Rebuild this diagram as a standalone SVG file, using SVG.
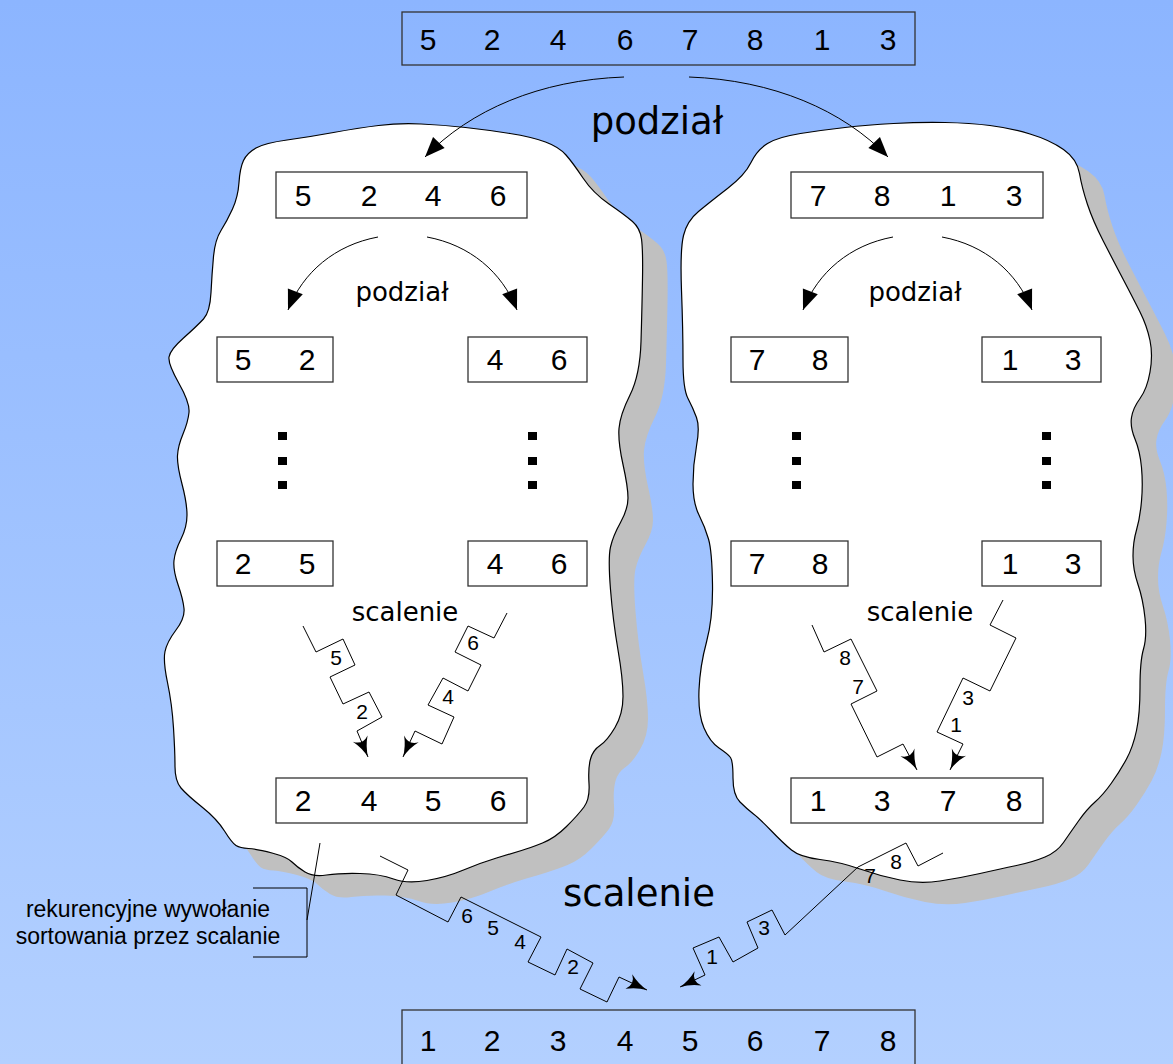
<svg xmlns="http://www.w3.org/2000/svg" xmlns:xlink="http://www.w3.org/1999/xlink" width="1173" height="1064" viewBox="0 0 1173 1064">
<style>
.box{fill:#fff;stroke:#333;stroke-width:1.3}
.obox{fill:none;stroke:#333;stroke-width:1.3}
.num{font-family:"Liberation Sans",Arial,sans-serif;font-size:30px;fill:#000;text-anchor:middle}
.lab{font-family:"Liberation Sans",Arial,sans-serif;font-size:21px;fill:#000;text-anchor:middle}
.note{font-family:"Liberation Sans",Arial,sans-serif;font-size:23px;fill:#000;text-anchor:middle}
.cs{font-family:"DejaVu Sans","Noto Sans",sans-serif;fill:#000;text-anchor:middle}
.arc{fill:none;stroke:#000;stroke-width:1;marker-end:url(#tri)}
.zig{fill:none;stroke:#000;stroke-width:1;stroke-linejoin:miter;marker-end:url(#conc)}
.ln{fill:none;stroke:#000;stroke-width:1}
.blob{fill:#fff;stroke:#000;stroke-width:1.2}
.shadow{fill:#c0c0c0;stroke:none}
.dot{fill:#000}
</style>
<defs>
<linearGradient id="bg" x1="0" y1="0" x2="0" y2="1">
<stop offset="0" stop-color="#8cb5ff"/>
<stop offset="1" stop-color="#b3d0ff"/>
</linearGradient>
<marker id="tri" markerUnits="userSpaceOnUse" markerWidth="22" markerHeight="18" refX="20" refY="8" orient="auto" overflow="visible">
<path d="M0,0 L20,8 L0,16 Z" fill="#000"/>
</marker>
<marker id="conc" markerUnits="userSpaceOnUse" markerWidth="22" markerHeight="18" refX="20" refY="8" orient="auto" overflow="visible">
<path d="M20,8 Q9,6 0,0 Q7,8 0,16 Q9,10 20,8 Z" fill="#000"/>
</marker>
<path id="shapeL" d="M243.5,160.5 Q247,153 256,148 Q265,143 287,140 Q309,137 333.5,132.5 Q358,128 378.5,125.5 Q399,123 421,124 Q443,125 465.5,127.5 Q488,130 510,133.5 Q532,137 545.5,142 Q559,147 566,155 Q573,163 583,178 Q593,193 609,204 Q625,215 632.5,221.5 Q640,228 641.5,239 Q643,250 642.5,279 Q642,308 641,341.5 Q640,375 630,395 Q620,415 619,428.5 Q618,442 623,464.5 Q628,487 628,498 Q628,509 620.5,522.5 Q613,536 610.5,547 Q608,558 610.5,589.5 Q613,621 618,650 Q623,679 623,696.5 Q623,714 615,727.5 Q607,741 600,745.5 Q593,750 590.5,759 Q588,768 589,783.5 Q590,799 584,807 Q578,815 566.5,826.5 Q555,838 542.5,843 Q530,848 521.5,850.5 Q513,853 496.5,858 Q480,863 463.5,870 Q447,877 427,880.5 Q407,884 393.5,879 Q380,874 360,873.5 Q340,873 326.5,875 Q313,877 305,872 Q297,867 292,862 Q287,857 272,853 Q257,849 248.5,848.5 Q240,848 236,845.5 Q232,843 224.5,831 Q217,819 202,807 Q187,795 181,788 Q175,781 175,766.5 Q175,752 173.5,728 Q172,704 167.5,682.5 Q163,661 165,651.5 Q167,642 176,630 Q185,618 184,608.5 Q183,599 178,584.5 Q173,570 174,560.5 Q175,551 181,539 Q187,527 187,515 Q187,503 182,484 Q177,465 177.5,455.5 Q178,446 183,434 Q188,422 189,412.5 Q190,403 179,383.5 Q168,364 169,357 Q170,350 183.5,338 Q197,326 203.5,319 Q210,312 211,292.5 Q212,273 213.5,256.5 Q215,240 221,230.5 Q227,221 232.5,209 Q238,197 239,182.5 Q240,168 243.5,160.5 Z"/>
<path id="shapeR" d="M751,162.5 Q757,150 767.5,143.5 Q778,137 800.5,133.5 Q823,130 845,127.5 Q867,125 893.5,123.5 Q920,122 945,122.5 Q970,123 990,125.5 Q1010,128 1030,134 Q1050,140 1063.5,149.5 Q1077,159 1079.5,173.5 Q1082,188 1087.5,204.5 Q1093,221 1103,240.5 Q1113,260 1123,279 Q1133,298 1140,312 Q1147,326 1150,340.5 Q1153,355 1150,372 Q1147,389 1140,398.5 Q1133,408 1131.5,417.5 Q1130,427 1135,439 Q1140,451 1141.5,467.5 Q1143,484 1141.5,501 Q1140,518 1136.5,530 Q1133,542 1133,556 Q1133,570 1138,584.5 Q1143,599 1145,618 Q1147,637 1143.5,649 Q1140,661 1140,687.5 Q1140,714 1136.5,730.5 Q1133,747 1126.5,759 Q1120,771 1111.5,783 Q1103,795 1095,802 Q1087,809 1078.5,821 Q1070,833 1063.5,842.5 Q1057,852 1045,857 Q1033,862 1016.5,865.5 Q1000,869 980,873.5 Q960,878 940,881 Q920,884 900,880 Q880,876 860,869 Q840,862 820,859.5 Q800,857 791.5,850 Q783,843 771.5,831 Q760,819 753.5,814 Q747,809 740,802 Q733,795 733,778 Q733,761 730.5,757.5 Q728,754 719,748 Q710,742 704,728 Q698,714 699,690 Q700,666 706.5,642 Q713,618 712.5,584.5 Q712,551 708.5,539 Q705,527 699,515 Q693,503 693,484 Q693,465 696.5,446 Q700,427 696.5,417.5 Q693,408 688,398.5 Q683,389 683,360 Q683,331 681.5,290.5 Q680,250 683.5,235.5 Q687,221 698.5,211.5 Q710,202 727.5,188.5 Q745,175 751,162.5 Z"/>
</defs>
<rect x="0" y="0" width="1173" height="1064" fill="url(#bg)"/>

<g id="blob-left">
<use xlink:href="#shapeL" href="#shapeL" class="shadow" transform="translate(25,22)"/>
<use xlink:href="#shapeL" href="#shapeL" class="blob"/>
</g>
<g id="blob-right">
<use xlink:href="#shapeR" href="#shapeR" class="shadow" transform="translate(25,22)"/>
<use xlink:href="#shapeR" href="#shapeR" class="blob"/>
</g>

<g id="connectors">
<path class="arc" d="M624,77 C540,80 470,110 425,157"/>
<path class="arc" d="M689,77 C773,80 843,110 888,157"/>
<path class="arc" d="M378,237 C335,245 303,272 288,310"/>
<path class="arc" d="M427,237 C470,245 502,272 517,310"/>
<path class="arc" d="M893,237 C850,245 818,272 803,310"/>
<path class="arc" d="M942,237 C985,245 1017,272 1032,310"/>
<polyline class="zig" points="303,626 316,652 343,639 355,665 330,677 343,704 369,692 382,717 357,731 368,757"/>
<polyline class="zig" points="507,613 494,638 468,626 455,652 481,665 468,691 443,678 428,705 454,717 442,744 415,731 403,757"/>
<polyline class="zig" points="812,625 824,652 851,639 877,691 851,704 877,757 903,744 917,770"/>
<polyline class="zig" points="1003,600 990,625 1016,638 990,691 963,678 937,732 963,744 950,770"/>
<polyline class="zig" points="380,856 408,870 396,895 448,922 461,897 541,937 528,962 555,975 567,949 593,963 580,989 607,1002 619,977 647,990"/>
<polyline class="zig" points="943,853 918,866 906,843 858,867 785,935 772,910 747,922 758,948 733,962 719,937 693,948 705,975 680,987"/>
<polyline class="ln" points="253,888 307,888 307,957 253,957"/>
<line class="ln" x1="307" y1="920" x2="320" y2="843"/>
</g>

<g id="node-top">
<rect class="obox" x="402" y="12" width="513" height="53"/>
<text class="num" y="50"><tspan x="428">5</tspan><tspan x="492">2</tspan><tspan x="558">4</tspan><tspan x="625">6</tspan><tspan x="690">7</tspan><tspan x="755">8</tspan><tspan x="822">1</tspan><tspan x="888">3</tspan></text>
</g>
<g id="node-5246">
<rect class="box" x="276" y="172" width="251" height="46"/>
<text class="num" y="206"><tspan x="303">5</tspan><tspan x="369">2</tspan><tspan x="433">4</tspan><tspan x="498">6</tspan></text>
</g>
<g id="node-7813">
<rect class="box" x="791" y="172" width="252" height="46"/>
<text class="num" y="206"><tspan x="818">7</tspan><tspan x="882">8</tspan><tspan x="948">1</tspan><tspan x="1014">3</tspan></text>
</g>
<g id="node-52">
<rect class="box" x="217" y="337" width="116" height="45"/>
<text class="num" y="370"><tspan x="243">5</tspan><tspan x="307">2</tspan></text>
</g>
<g id="node-46a">
<rect class="box" x="468" y="337" width="119" height="45"/>
<text class="num" y="370"><tspan x="495">4</tspan><tspan x="559">6</tspan></text>
</g>
<g id="node-78a">
<rect class="box" x="731" y="337" width="117" height="45"/>
<text class="num" y="370"><tspan x="757">7</tspan><tspan x="820">8</tspan></text>
</g>
<g id="node-13a">
<rect class="box" x="982" y="337" width="119" height="45"/>
<text class="num" y="370"><tspan x="1010">1</tspan><tspan x="1073">3</tspan></text>
</g>
<g id="dots">
<rect class="dot" x="278" y="432" width="9" height="8"/><rect class="dot" x="278" y="457" width="9" height="8"/><rect class="dot" x="278" y="481" width="9" height="8"/>
<rect class="dot" x="528" y="432" width="9" height="8"/><rect class="dot" x="528" y="457" width="9" height="8"/><rect class="dot" x="528" y="481" width="9" height="8"/>
<rect class="dot" x="792" y="432" width="9" height="8"/><rect class="dot" x="792" y="457" width="9" height="8"/><rect class="dot" x="792" y="481" width="9" height="8"/>
<rect class="dot" x="1042" y="432" width="9" height="8"/><rect class="dot" x="1042" y="457" width="9" height="8"/><rect class="dot" x="1042" y="481" width="9" height="8"/>
</g>
<g id="node-25">
<rect class="box" x="217" y="541" width="116" height="45"/>
<text class="num" y="574"><tspan x="243">2</tspan><tspan x="307">5</tspan></text>
</g>
<g id="node-46b">
<rect class="box" x="468" y="541" width="119" height="45"/>
<text class="num" y="574"><tspan x="495">4</tspan><tspan x="559">6</tspan></text>
</g>
<g id="node-78b">
<rect class="box" x="731" y="541" width="117" height="45"/>
<text class="num" y="574"><tspan x="757">7</tspan><tspan x="820">8</tspan></text>
</g>
<g id="node-13b">
<rect class="box" x="982" y="541" width="119" height="45"/>
<text class="num" y="574"><tspan x="1010">1</tspan><tspan x="1073">3</tspan></text>
</g>
<g id="node-2456">
<rect class="box" x="276" y="778" width="251" height="45"/>
<text class="num" y="811"><tspan x="303">2</tspan><tspan x="369">4</tspan><tspan x="433">5</tspan><tspan x="498">6</tspan></text>
</g>
<g id="node-1378">
<rect class="box" x="791" y="778" width="252" height="45"/>
<text class="num" y="811"><tspan x="818">1</tspan><tspan x="882">3</tspan><tspan x="948">7</tspan><tspan x="1014">8</tspan></text>
</g>
<g id="node-bottom">
<rect class="obox" x="402" y="1010" width="513" height="60"/>
<text class="num" y="1051"><tspan x="428">1</tspan><tspan x="492">2</tspan><tspan x="558">3</tspan><tspan x="625">4</tspan><tspan x="690">5</tspan><tspan x="755">6</tspan><tspan x="822">7</tspan><tspan x="888">8</tspan></text>
</g>

<g id="labels">
<text class="cs" x="657" y="134" font-size="37">podział</text>
<text class="cs" x="402" y="301" font-size="26">podział</text>
<text class="cs" x="915" y="301" font-size="26">podział</text>
<text class="cs" x="405" y="621" font-size="26">scalenie</text>
<text class="cs" x="920" y="621" font-size="26">scalenie</text>
<text class="cs" x="639" y="906" font-size="37">scalenie</text>
<text class="lab" x="336" y="665">5</text>
<text class="lab" x="362" y="719">2</text>
<text class="lab" x="473" y="650">6</text>
<text class="lab" x="448" y="704">4</text>
<text class="lab" x="845" y="665">8</text>
<text class="lab" x="858" y="694">7</text>
<text class="lab" x="968" y="705">3</text>
<text class="lab" x="956" y="732">1</text>
<text class="lab" x="467" y="923">6</text>
<text class="lab" x="493" y="935">5</text>
<text class="lab" x="520" y="949">4</text>
<text class="lab" x="573" y="974">2</text>
<text class="lab" x="712" y="964">1</text>
<text class="lab" x="764" y="935">3</text>
<text class="lab" x="870" y="883">7</text>
<text class="lab" x="896" y="869">8</text>
<text class="note" x="148" y="917">rekurencyjne wywołanie</text>
<text class="note" x="148" y="944">sortowania przez scalanie</text>
</g>
</svg>
